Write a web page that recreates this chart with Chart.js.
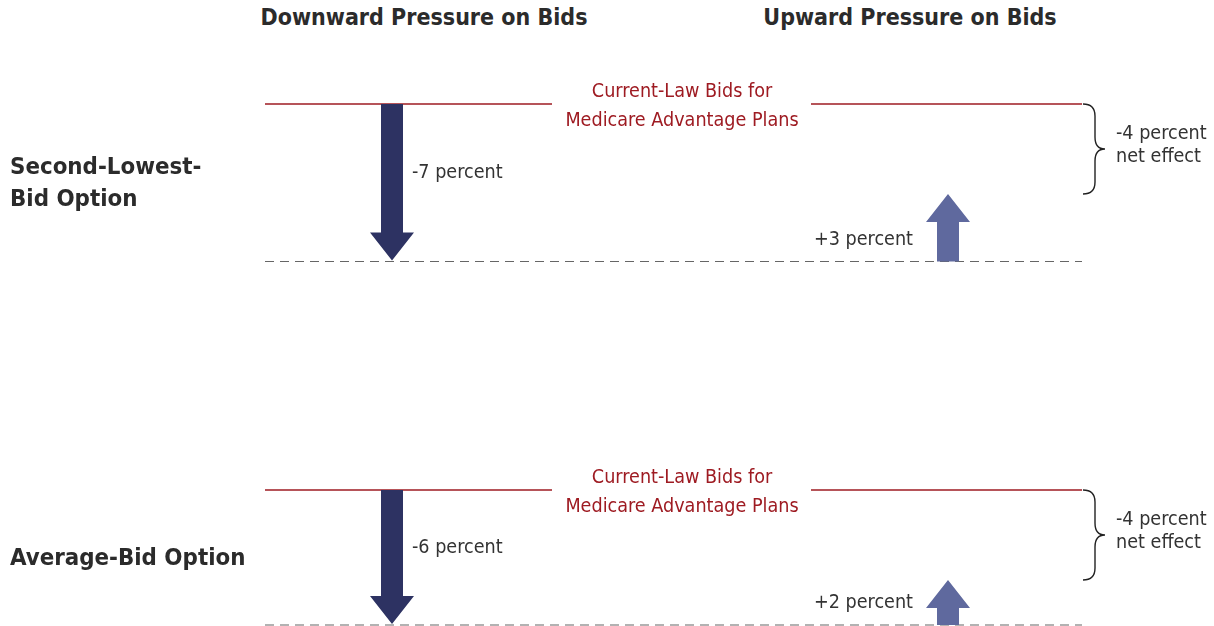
<!DOCTYPE html>
<html>
<head>
<meta charset="utf-8">
<script src="https://cdn.jsdelivr.net/npm/chart.js@4"></script>
<style>
  html, body { margin: 0; padding: 0; background: #fff; width: 1214px; height: 626px; overflow: hidden; }
  .head { position: absolute; top: 4px; font: bold 23px 'DejaVu Sans Condensed', 'Liberation Sans Narrow', sans-serif; color: #2b2b2b; white-space: nowrap; transform: translateX(-50%); }
  .panel { position: absolute; left: 0; width: 1214px; height: 230px; }
</style>
</head>
<body>
<div class="head" style="left:424px">Downward Pressure on Bids</div>
<div class="head" style="left:910px">Upward Pressure on Bids</div>
<div class="panel" style="top:59px"><canvas id="panel-0" width="1214" height="230"></canvas></div>
<div class="panel" style="top:445px"><canvas id="panel-1" width="1214" height="230"></canvas></div>
<script>
// Données (en pourcentage)
const categories = ['Second-Lowest-Bid Option', 'Average-Bid Option'];
const rowLabels = [['Second-Lowest-', 'Bid Option'], ['Average-Bid Option']];
const downward = [-7, -6];
const upward = [3, 2];
const netEffect = [-4, -4];
const baselineLabel = ['Current-Law Bids for', 'Medicare Advantage Plans'];

const FONT = "'DejaVu Sans Condensed', 'Liberation Sans Narrow', sans-serif";
const PX_PER_UNIT = 22.5;
const Y_MAX = 2;
const RED = '#9e1b22';
const DOWN_COLOR = '#2d3262';
const UP_COLOR = '#5f699e';

// Dessine une flèche verticale entre deux pixels
function drawArrow(ctx, x, yFrom, yTo, color) {
    const shaft = 11, head = 22, headLen = 28;
    const dir = yTo > yFrom ? 1 : -1;
    const yHead = yTo - dir * headLen;
    ctx.beginPath();
    ctx.moveTo(x - shaft, yFrom);
    ctx.lineTo(x + shaft, yFrom);
    ctx.lineTo(x + shaft, yHead);
    ctx.lineTo(x + head, yHead);
    ctx.lineTo(x, yTo);
    ctx.lineTo(x - head, yHead);
    ctx.lineTo(x - shaft, yHead);
    ctx.closePath();
    ctx.fillStyle = color;
    ctx.fill();
}

// Accolade à droite
function drawBrace(ctx, x, yTop, yBot) {
    const yMid = (yTop + yBot) / 2;
    const w = 10;
    ctx.beginPath();
    ctx.moveTo(x, yTop);
    ctx.quadraticCurveTo(x + w + 2, yTop, x + w + 2, yTop + 12);
    ctx.lineTo(x + w + 2, yMid - 12);
    ctx.quadraticCurveTo(x + w + 2, yMid, x + 2 * w + 2, yMid);
    ctx.quadraticCurveTo(x + w + 2, yMid, x + w + 2, yMid + 12);
    ctx.lineTo(x + w + 2, yBot - 12);
    ctx.quadraticCurveTo(x + w + 2, yBot, x, yBot);
    ctx.strokeStyle = '#222';
    ctx.lineWidth = 1.4;
    ctx.stroke();
}

const annotations = {
    id: 'annotations',
    afterDatasetsDraw(chart) {
        const i = chart.options.plugins.annotations.index;
        const { ctx, scales: { x, y } } = chart;
        const y0 = y.getPixelForValue(0);
        const yDown = y.getPixelForValue(downward[i]);
        const yUp = y.getPixelForValue(downward[i] + upward[i]);
        const yNet = y.getPixelForValue(netEffect[i]);
        ctx.save();
        drawArrow(ctx, x.getPixelForValue(392), y0, yDown - 1, DOWN_COLOR);
        drawArrow(ctx, x.getPixelForValue(948), yDown, yUp, UP_COLOR);
        drawBrace(ctx, x.getPixelForValue(1083), y0, yNet);

        ctx.textBaseline = 'middle';
        // Libellé de la ligne de base
        ctx.fillStyle = RED;
        ctx.font = '19.6px ' + FONT;
        ctx.textAlign = 'center';
        ctx.fillText(baselineLabel[0], x.getPixelForValue(682), y0 - 12);
        ctx.fillText(baselineLabel[1], x.getPixelForValue(682), y0 + 17);

        ctx.fillStyle = '#333';
        ctx.textAlign = 'left';
        ctx.fillText(downward[i] + ' percent', x.getPixelForValue(412), (y0 + yDown) / 2 - 10);
        ctx.textAlign = 'right';
        ctx.fillText('+' + upward[i] + ' percent', x.getPixelForValue(913), yDown - 22);
        ctx.textAlign = 'left';
        const yMid = (y0 + yNet) / 2;
        ctx.fillText(netEffect[i] + ' percent', x.getPixelForValue(1116), yMid - 15);
        ctx.fillText('net effect', x.getPixelForValue(1116), yMid + 8);

        // Libellé de la catégorie
        ctx.fillStyle = '#2b2b2b';
        ctx.font = 'bold 23.8px ' + FONT;
        const lines = rowLabels[i];
        const yc = (y0 + yDown) / 2;
        lines.forEach((t, k) => {
            ctx.fillText(t, x.getPixelForValue(10), yc + 1 + (k - (lines.length - 1) / 2) * 32);
        });
        ctx.restore();
    }
};

categories.forEach((cat, i) => {
    new Chart(document.getElementById('panel-' + i), {
        type: 'line',
        data: {
            datasets: [
                { label: cat, data: [{ x: 265, y: 0 }, { x: 552, y: 0 }], borderColor: RED, borderWidth: 1.5 },
                { label: cat, data: [{ x: 811, y: 0 }, { x: 1082, y: 0 }], borderColor: RED, borderWidth: 1.5 },
                { label: cat, data: [{ x: 265, y: downward[i] }, { x: 1082, y: downward[i] }], borderColor: '#666', borderWidth: 1.2, borderDash: [9, 6] }
            ]
        },
        options: {
            responsive: false,
            animation: false,
            layout: { padding: 0 },
            elements: { point: { radius: 0 } },
            scales: {
                x: { type: 'linear', display: false, min: 0, max: 1214 },
                y: { type: 'linear', display: false, max: Y_MAX, min: Y_MAX - 230 / PX_PER_UNIT }
            },
            plugins: { legend: { display: false }, tooltip: { enabled: false }, annotations: { index: i } }
        },
        plugins: [annotations]
    });
});
</script>
</body>
</html>
